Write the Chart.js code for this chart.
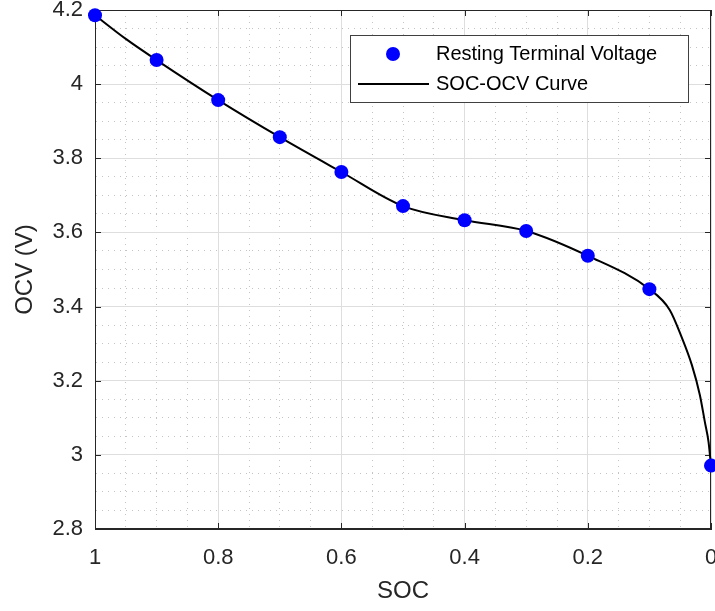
<!DOCTYPE html>
<html>
<head>
<meta charset="utf-8">
<title>SOC-OCV</title>
<script src="https://cdn.jsdelivr.net/npm/chart.js@4.4.1/dist/chart.umd.min.js"></script>
<style>
    html, body { margin: 0; padding: 0; background: #fff; }
    #ocvChart { display: block; }
</style>
</head>
<body>
<canvas id="ocvChart" width="715" height="611"></canvas>
<script>
// measured points (resting terminal voltage)
const socPoints = [1.0, 0.9, 0.8, 0.7, 0.6, 0.5, 0.4, 0.3, 0.2, 0.1, 0.0];
const ocvPoints = [4.186, 4.065, 3.957, 3.857, 3.763, 3.671, 3.633, 3.604, 3.537, 3.447, 2.971];

// fitted curve
const socCurve = [1.0, 0.95, 0.9, 0.8, 0.7, 0.6, 0.5, 0.4, 0.3, 0.2, 0.1, 0.067, 0.048, 0.031, 0.018, 0.01, 0.004, 0.0];
const ocvCurve = [4.186, 4.122, 4.065, 3.957, 3.857, 3.763, 3.671, 3.633, 3.604, 3.537, 3.447, 3.391, 3.319, 3.242, 3.161, 3.089, 3.035, 2.971];

const xTickLabels = ['1', '0.8', '0.6', '0.4', '0.2', '0'];
const yTickLabels = ['4.2', '4', '3.8', '3.6', '3.4', '3.2', '3', '2.8'];

const seriesNames = ['Resting Terminal Voltage', 'SOC-OCV Curve'];

document.addEventListener('DOMContentLoaded', function() {
    const ctx = document.getElementById('ocvChart').getContext('2d');

    const axisColor = '#262626';
    const fontFamily = '"Liberation Sans", Arial, Helvetica, sans-serif';

    const isMajor = (v) => Math.round(v * 100) % 20 === 0;

    const fmt = (v) => String(Math.round(v * 100) / 100);

    // box, inner ticks and legend in MATLAB style
    const axesBox = {
        id: 'axesBox',
        beforeDatasetsDraw(chart) {
            const { ctx, chartArea: a, scales } = chart;
            ctx.save();
            ctx.strokeStyle = axisColor;
            ctx.lineWidth = 1;
            ctx.strokeRect(a.left + 0.5, a.top + 0.5, a.right - a.left - 1, a.bottom - a.top - 1);
            const len = 6;
            ctx.beginPath();
            scales.x.ticks.forEach(t => {
                if (!isMajor(t.value)) return;
                const px = Math.round(scales.x.getPixelForValue(t.value)) + 0.5;
                ctx.moveTo(px, a.bottom);
                ctx.lineTo(px, a.bottom - len);
                ctx.moveTo(px, a.top);
                ctx.lineTo(px, a.top + len);
            });
            scales.y.ticks.forEach(t => {
                if (!isMajor(t.value)) return;
                const py = Math.round(scales.y.getPixelForValue(t.value)) + 0.5;
                ctx.moveTo(a.left, py);
                ctx.lineTo(a.left + len, py);
                ctx.moveTo(a.right, py);
                ctx.lineTo(a.right - len, py);
            });
            ctx.stroke();
            ctx.restore();
        },
        afterDraw(chart) {
            const { ctx, chartArea: a } = chart;
            const bx = a.right - 361, by = a.top + 25, bw = 338, bh = 67;
            ctx.save();
            ctx.fillStyle = '#ffffff';
            ctx.fillRect(bx, by, bw, bh);
            ctx.strokeStyle = '#404040';
            ctx.lineWidth = 1;
            ctx.strokeRect(bx + 0.5, by + 0.5, bw, bh);

            // marker entry
            ctx.fillStyle = '#0000ff';
            ctx.beginPath();
            ctx.arc(bx + 43, by + 19, 7, 0, Math.PI * 2);
            ctx.fill();
            // line entry
            ctx.strokeStyle = '#000000';
            ctx.lineWidth = 2;
            ctx.beginPath();
            ctx.moveTo(bx + 8, by + 49);
            ctx.lineTo(bx + 79, by + 49);
            ctx.stroke();

            ctx.fillStyle = '#000000';
            ctx.font = '20px ' + fontFamily;
            ctx.textBaseline = 'middle';
            ctx.textAlign = 'left';
            ctx.fillText(chart.data.datasets[1].label, bx + 86, by + 19);
            ctx.fillText(chart.data.datasets[0].label, bx + 86, by + 49);
            ctx.restore();
        }
    };

    const gridColor = (c) => isMajor(c.tick.value) ? '#dedede' : '#c4c4c4';
    const gridDash = (c) => isMajor(c.tick.value) ? [] : [1, 5];

    new Chart(ctx, {
        type: 'scatter',
        data: {
            datasets: [
                {
                    label: seriesNames[1],
                    data: socCurve.map((s, i) => ({ x: s, y: ocvCurve[i] })),
                    showLine: true,
                    borderColor: '#000000',
                    borderWidth: 2,
                    pointRadius: 0,
                    cubicInterpolationMode: 'monotone',
                    clip: false,
                    order: 2
                },
                {
                    label: seriesNames[0],
                    data: socPoints.map((s, i) => ({ x: s, y: ocvPoints[i] })),
                    backgroundColor: '#0000ff',
                    borderColor: '#0000ff',
                    borderWidth: 0,
                    pointRadius: 7,
                    clip: false,
                    order: 1
                }
            ]
        },
        options: {
            responsive: false,
            animation: false,
            layout: { autoPadding: false, padding: { top: 10, right: 4, left: 0, bottom: 0 } },
            plugins: {
                legend: { display: false },
                tooltip: { enabled: false }
            },
            scales: {
                x: {
                    type: 'linear',
                    min: 0,
                    max: 1,
                    reverse: true,
                    afterFit(scale) {
                        scale.height = 82;
                        scale.paddingLeft = 0;
                        scale.paddingRight = 0;
                    },
                    ticks: {
                        stepSize: 0.05,
                        autoSkip: false,
                        maxTicksLimit: 100,
                        maxRotation: 0,
                        padding: 16,
                        color: axisColor,
                        font: { family: fontFamily, size: 22 },
                        callback: (v) => isMajor(v) && xTickLabels.includes(fmt(v)) ? fmt(v) : ''
                    },
                    grid: {
                        color: gridColor,
                        lineWidth: 1,
                        drawTicks: false
                    },
                    border: { color: axisColor, width: 1, dash: gridDash },
                    title: {
                        display: true,
                        text: 'SOC',
                        color: axisColor,
                        font: { family: fontFamily, size: 24 },
                        padding: { top: 0, bottom: 5 }
                    }
                },
                y: {
                    type: 'linear',
                    min: 2.8,
                    max: 4.2,
                    afterFit(scale) {
                        scale.width = 95;
                        scale.paddingTop = 0;
                        scale.paddingBottom = 0;
                    },
                    ticks: {
                        stepSize: 0.05,
                        autoSkip: false,
                        maxTicksLimit: 100,
                        padding: 12,
                        color: axisColor,
                        font: { family: fontFamily, size: 22 },
                        callback: (v) => isMajor(v) && yTickLabels.includes(fmt(v)) ? fmt(v) : ''
                    },
                    grid: {
                        color: gridColor,
                        lineWidth: 1,
                        drawTicks: false
                    },
                    border: { color: axisColor, width: 1, dash: gridDash },
                    title: {
                        display: true,
                        text: 'OCV (V)',
                        color: axisColor,
                        font: { family: fontFamily, size: 24 },
                        padding: { top: 11, bottom: 0 }
                    }
                }
            }
        },
        plugins: [axesBox]
    });
});
</script>
</body>
</html>
